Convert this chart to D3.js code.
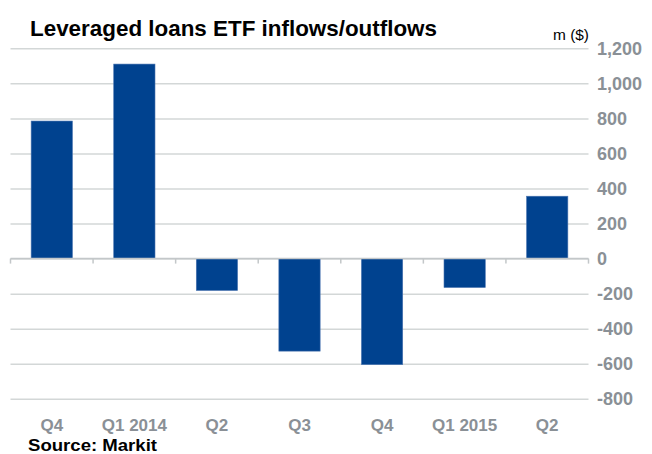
<!DOCTYPE html>
<html lang="en">
<head>
    <meta charset="utf-8">
    <title>Leveraged loans ETF inflows/outflows</title>
    <script src="https://d3js.org/d3.v7.min.js"></script>
    <style>
        body { margin: 0; background: #fff; }
        svg text { font-family: "Liberation Sans", Arial, sans-serif; }
        .grid line { stroke: #d3d7d7; stroke-width: 1.5; }
        .grid path { display: none; }
    </style>
</head>
<body>
<script>
    // data
    var quarters = ["Q4", "Q1 2014", "Q2", "Q3", "Q4", "Q1 2015", "Q2"];
    var flows = [785, 1110, -182, -528, -605, -165, 356];
    var yTicks = [-800, -600, -400, -200, 0, 200, 400, 600, 800, 1000, 1200];

    var width = 652, height = 454;
    var plot = { left: 10.5, right: 588.5, top: 48.3, bottom: 398.8 };

    var svg = d3.select("body").append("svg")
        .attr("width", width)
        .attr("height", height);

    var x = d3.scaleBand()
        .domain(d3.range(quarters.length))
        .range([plot.left, plot.right])
        .paddingInner(0.5)
        .paddingOuter(0.25);

    var y = d3.scaleLinear()
        .domain([-800, 1200])
        .range([plot.bottom, plot.top]);

    // gridlines
    svg.append("g")
        .attr("class", "grid")
        .attr("transform", "translate(" + plot.left + ",0)")
        .call(d3.axisRight(y).tickValues(yTicks).tickSize(plot.right - plot.left).tickFormat(""));

    // bars
    svg.selectAll("rect.bar")
        .data(flows)
        .enter()
        .append("rect")
        .attr("class", "bar")
        .attr("x", function (d, i) { return x(i); })
        .attr("width", x.bandwidth())
        .attr("y", function (d) { return y(Math.max(0, d)); })
        .attr("height", function (d) { return Math.abs(y(d) - y(0)); })
        .attr("fill", "#00428f")
        .attr("stroke", "#4a74b0")
        .attr("stroke-width", 0.6);

    // zero axis with category boundary ticks
    var bounds = d3.range(quarters.length + 1).map(function (i) {
        return plot.left + i * (plot.right - plot.left) / quarters.length;
    });
    svg.append("line")
        .attr("x1", plot.left).attr("x2", plot.right)
        .attr("y1", y(0)).attr("y2", y(0))
        .attr("stroke", "#c3c7c9").attr("stroke-width", 1.5);
    svg.selectAll("line.tick0")
        .data(bounds)
        .enter()
        .append("line")
        .attr("class", "tick0")
        .attr("x1", function (d) { return d; }).attr("x2", function (d) { return d; })
        .attr("y1", y(0)).attr("y2", y(0) + 5)
        .attr("stroke", "#c3c7c9").attr("stroke-width", 1.5);

    // y labels on the right
    svg.append("g").selectAll("text")
        .data(yTicks)
        .enter()
        .append("text")
        .attr("x", 597)
        .attr("y", function (d) { return y(d); })
        .attr("dy", "0.36em")
        .attr("font-size", 18)
        .attr("font-weight", "bold")
        .attr("fill", "#8a9096")
        .text(function (d) { return d3.format(",")(d).replace("\u2212", "-"); });

    // x labels
    svg.append("g").selectAll("text")
        .data(quarters)
        .enter()
        .append("text")
        .attr("x", function (d, i) { return x(i) + x.bandwidth() / 2; })
        .attr("y", 431)
        .attr("text-anchor", "middle")
        .attr("font-size", 17)
        .attr("font-weight", "bold")
        .attr("fill", "#8a9096")
        .text(function (d) { return d; });

    // title
    svg.append("text")
        .attr("x", 30)
        .attr("y", 36)
        .attr("font-size", 22)
        .attr("font-weight", "bold")
        .attr("fill", "#000")
        .attr("textLength", 407)
        .attr("lengthAdjust", "spacingAndGlyphs")
        .text("Leveraged loans ETF inflows/outflows");

    // unit
    svg.append("text")
        .attr("x", 553)
        .attr("y", 40)
        .attr("font-size", 15)
        .attr("fill", "#000")
        .attr("textLength", 36)
        .attr("lengthAdjust", "spacingAndGlyphs")
        .text("m ($)");

    // source
    svg.append("text")
        .attr("x", 28)
        .attr("y", 451)
        .attr("font-size", 16)
        .attr("font-weight", "bold")
        .attr("fill", "#000")
        .attr("textLength", 129)
        .attr("lengthAdjust", "spacingAndGlyphs")
        .text("Source: Markit");
</script>
</body>
</html>
